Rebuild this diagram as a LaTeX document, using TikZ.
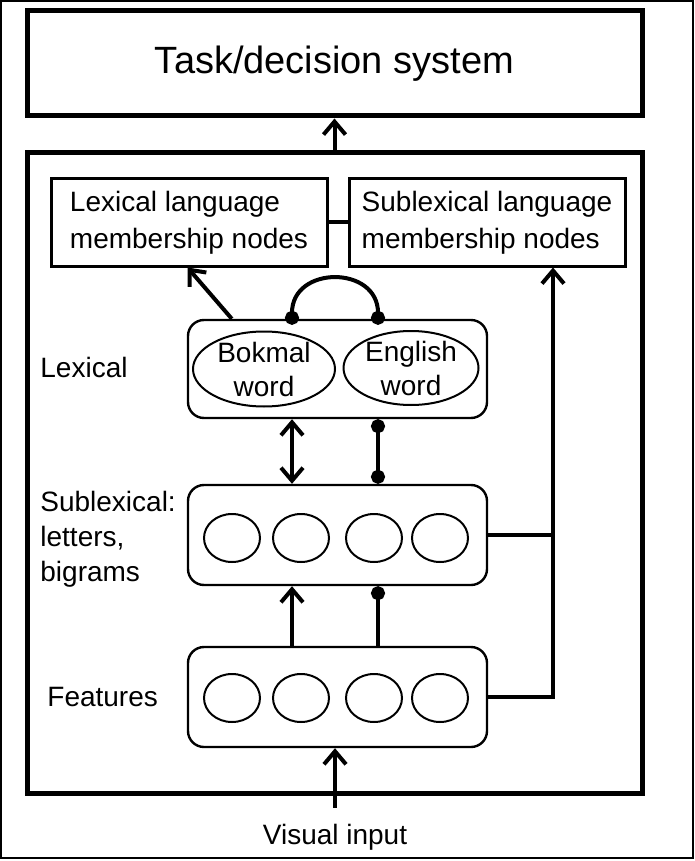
\documentclass[tikz,border=0pt]{standalone}
\usepackage{fontspec}
\setmainfont{Liberation Sans}
\usetikzlibrary{arrows.meta,calc,shapes.geometric}
\begin{document}
\begin{tikzpicture}[x=0.5pt,y=-0.5pt,
	every node/.style={font=\fontsize{14}{17}\selectfont},
	bigbox/.style={draw,line width=2.5pt,minimum width=307.5pt},
	langbox/.style={draw,line width=1.5pt,minimum width=138pt,minimum height=43.5pt,align=left,font=\fontsize{14}{18.5}\selectfont},
	layer/.style={draw,line width=1.2pt,rounded corners=8pt,minimum width=149.5pt,minimum height=50pt},
	word/.style={draw,ellipse,line width=1pt,inner sep=0pt},
	unit/.style={draw,ellipse,line width=1pt,inner sep=0pt,minimum width=28pt,minimum height=24pt},
	side/.style={anchor=west,align=left,inner sep=0pt,font=\fontsize{14}{17.5}\selectfont},
	wire/.style={line width=2pt},
	arr/.style={wire,-{Straight Barb[length=6.5pt,width=11pt]}},
	dbl/.style={wire,{Straight Barb[length=6.5pt,width=11pt]}-{Straight Barb[length=6.5pt,width=11pt]}},
	dot/.style={wire,-{Circle[length=7pt]}},
	dots/.style={wire,{Circle[length=7pt]}-{Circle[length=7pt]}}]
	\useasboundingbox (0,0) rectangle (695,861);
	\draw[line width=1pt] (1,1) rectangle (693,858);
	\node[bigbox,minimum height=52.5pt,font=\fontsize{19}{23}\selectfont] (task) at (334.5,63.5) {Task/decision system};
	\node[bigbox,minimum height=320pt] (model) at (334.5,473) {};
	\node[langbox] (lexlang) at (189,222.5) {Lexical language\\membership nodes};
	\node[langbox] (sublang) at (487,222.5) {Sublexical language\\membership nodes};
	\node[layer,minimum height=49pt] (lexical) at (337.5,369) {};
	\node[layer] (sublex) at (337.5,535) {};
	\node[layer] (features) at (337.5,697) {};
	\node[word,minimum width=71pt,minimum height=37.5pt,label={[align=center]center:{Bokmal\\word}}] (bokmal) at (264,369) {};
	\node[word,minimum width=67.5pt,minimum height=37pt,label={[align=center]center:{English\\word}}] (english) at (411,368) {};
	\foreach \cx [count=\i] in {232,301,374,440}
	{
		\node[unit] (s\i) at (\cx,538) {};
		\node[unit] (f\i) at (\cx,698) {};
	}
	\node[side] (lexlabel) at (40,367) {Lexical};
	\node[side] (sublabel) at (40,539) {Sublexical:\\letters,\\bigrams};
	\node[side] (featlabel) at (47,697) {Features};
	\node[inner ysep=8pt] (visual) at (335,837) {Visual input};
	\coordinate (colA) at (292,0);
	\coordinate (colB) at (378,0);
	\coordinate (colC) at (553,0);
	\draw[arr] (model.north) -- (task.south);
	\draw[wire] (lexlang) -- (sublang);
	\draw[arr] ($(lexical.north west)+(45,0)$) -- ($(lexlang.south west)+(138,0)$);
	\draw[dots,shorten <=-3pt,shorten >=-3pt] (lexical.north -| colA) to[out=90,in=90,looseness=1.6] (lexical.north -| colB);
	\draw[dbl] (lexical.south -| colA) -- (sublex.north -| colA);
	\draw[dots] (lexical.south -| colB) -- (sublex.north -| colB);
	\draw[arr] (features.north -| colA) -- (sublex.south -| colA);
	\draw[dot] (features.north -| colB) -- (sublex.south -| colB);
	\draw[wire] (sublex.east) -- (sublex.east -| colC);
	\draw[arr] (features.east) -- (features.east -| colC) -- (sublang.south -| colC);
	\draw[arr] (visual.north) -- (visual.north |- features.south);
\end{tikzpicture}
\end{document}
